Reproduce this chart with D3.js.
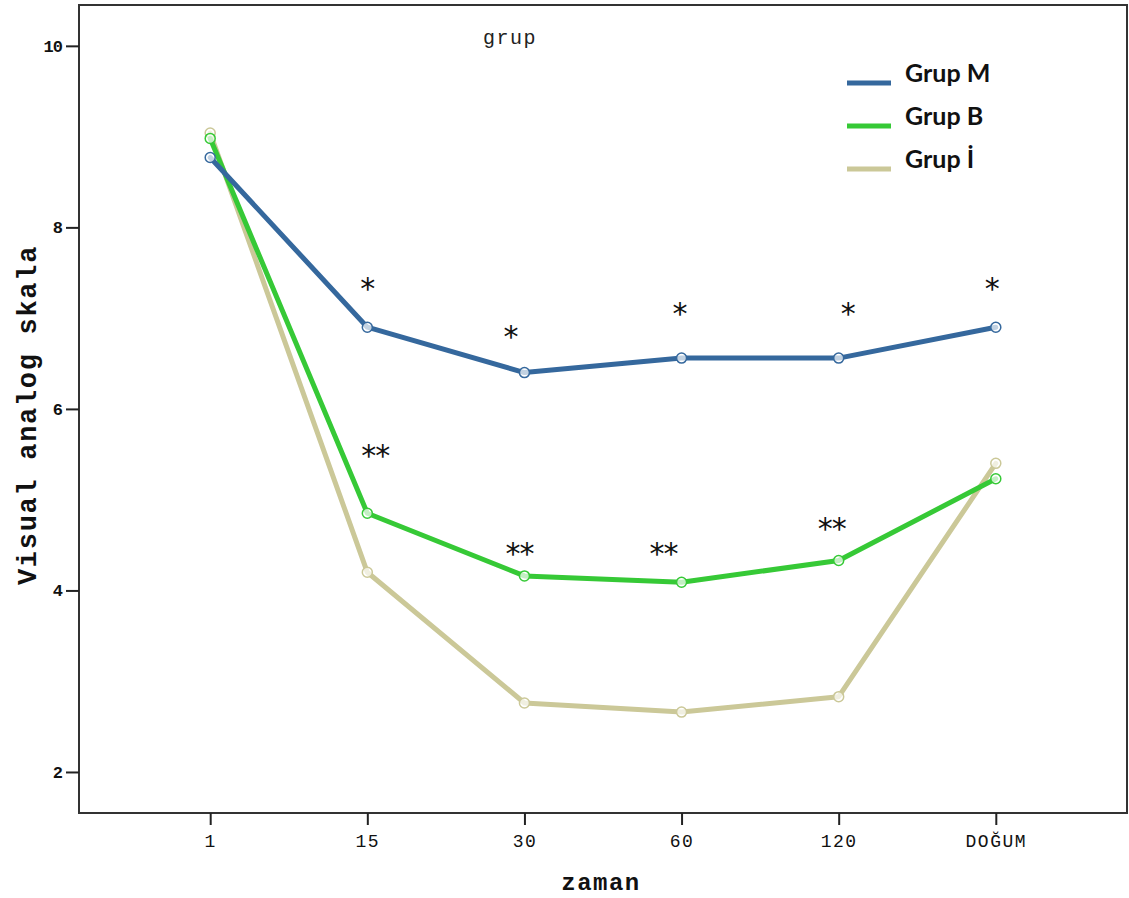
<!DOCTYPE html>
<html>
<head>
<meta charset="utf-8">
<script src="https://cdn.jsdelivr.net/npm/d3@7"></script>
<style>
  html, body { margin: 0; padding: 0; background: #fff; }
  svg { display: block; }
</style>
</head>
<body>
<script>
// ---- data ----
const categories = ["1", "15", "30", "60", "120", "DOĞUM"];
const seriesNames = ["Grup M", "Grup B", "Grup İ"];
const grupM = [8.77, 6.90, 6.40, 6.56, 6.56, 6.90];
const grupB = [8.98, 4.85, 4.16, 4.09, 4.33, 5.23];
const grupI = [9.04, 4.20, 2.76, 2.66, 2.83, 5.40];
const yTicks = [2, 4, 6, 8, 10];
// significance marks: category, value, label, pixel nudge
const markCats = ["15", "30", "60", "120", "DOĞUM", "15", "30", "60", "120"];
const markVals = [7.37, 6.84, 7.09, 7.09, 7.37, 5.53, 4.45, 4.45, 4.72];
const markText = ["*", "*", "*", "*", "*", "**", "**", "**", "**"];
const markDx   = [0, -14, -2, 9, -4, 8, -5, -18, -7];

const colors = ["#35689d", "#36c936", "#cbc898"];

const W = 1129, H = 898;
const svg = d3.select("body").append("svg").attr("width", W).attr("height", H);

const pLeft = 79, pRight = 1127, pTop = 5, pBottom = 813;

const x = d3.scalePoint().domain(categories).range([pLeft, pRight]).padding(0.835);
const y = d3.scaleLinear().domain([1.548, 10.45]).range([pBottom, pTop]);

// frame
svg.append("rect").attr("x", pLeft).attr("y", pTop)
  .attr("width", pRight - pLeft).attr("height", pBottom - pTop)
  .attr("fill", "none").attr("stroke", "#333").attr("stroke-width", 2);

// y axis
const yAxis = svg.append("g").attr("transform", `translate(${pLeft},0)`)
  .call(d3.axisLeft(y).tickValues(yTicks).tickSize(13).tickPadding(4).tickFormat(d3.format("d")));
yAxis.select(".domain").remove();
yAxis.selectAll(".tick line").attr("stroke", "#222").attr("stroke-width", 2);
yAxis.selectAll(".tick text").attr("font-family", "Liberation Mono, monospace")
  .attr("font-weight", "bold").attr("font-size", 17).attr("fill", "#111")
  .attr("letter-spacing", "-1px");

// x axis
const xAxis = svg.append("g").attr("transform", `translate(0,${pBottom})`)
  .call(d3.axisBottom(x).tickSize(12).tickPadding(9));
xAxis.select(".domain").remove();
xAxis.selectAll(".tick line").attr("stroke", "#222").attr("stroke-width", 2);
xAxis.selectAll(".tick text").attr("font-family", "Liberation Mono, monospace")
  .attr("font-size", 18).attr("letter-spacing", "1.5px").attr("fill", "#111");

// axis titles
svg.append("text").attr("transform", `translate(36,415) rotate(-90)`)
  .attr("text-anchor", "middle").attr("font-family", "Liberation Mono, monospace")
  .attr("font-weight", "bold").attr("font-size", 27).attr("letter-spacing", "1.7px")
  .attr("fill", "#111").text("Visual analog skala");

svg.append("text").attr("x", 601).attr("y", 890)
  .attr("text-anchor", "middle").attr("font-family", "Liberation Mono, monospace")
  .attr("font-weight", "bold").attr("font-size", 24).attr("letter-spacing", "1.5px")
  .attr("fill", "#111").text("zaman");

svg.append("text").attr("x", 510).attr("y", 44)
  .attr("text-anchor", "middle").attr("font-family", "Liberation Mono, monospace")
  .attr("font-size", 20).attr("letter-spacing", "1.5px")
  .attr("fill", "#222").text("grup");

// lines
const allSeries = [grupM, grupB, grupI];
const line = d3.line().x((d, i) => x(categories[i])).y(d => y(d));
const order = [2, 1, 0];
order.forEach(k => {
  const g = svg.append("g");
  g.append("path").datum(allSeries[k]).attr("d", line)
    .attr("fill", "none").attr("stroke", colors[k]).attr("stroke-width", 5)
    .attr("stroke-linejoin", "round").attr("stroke-linecap", "round");
  g.selectAll("circle").data(allSeries[k]).join("circle")
    .attr("cx", (d, i) => x(categories[i])).attr("cy", d => y(d)).attr("r", 5)
    .attr("fill", "#fff").attr("fill-opacity", 0.7)
    .attr("stroke", colors[k]).attr("stroke-width", 1.5);
});

// significance marks
svg.selectAll("text.mark").data(markText).join("text").attr("class", "mark")
  .attr("x", (d, i) => x(markCats[i]) + markDx[i])
  .attr("y", (d, i) => y(markVals[i]) + 14)
  .attr("text-anchor", "middle").attr("font-family", "DejaVu Sans, sans-serif")
  .attr("font-size", 30).attr("letter-spacing", "-1px").attr("fill", "#111").text(d => d);

// legend
const legY = [83, 126, 169];
seriesNames.forEach((name, k) => {
  svg.append("line").attr("x1", 847).attr("x2", 891).attr("y1", legY[k]).attr("y2", legY[k])
    .attr("stroke", colors[k]).attr("stroke-width", 5);
  svg.append("text").attr("x", 905).attr("y", legY[k] - 1)
    .attr("font-family", "Lato, sans-serif").attr("font-weight", "bold")
    .attr("font-size", 25).attr("fill", "#111").text(name);
});
</script>
</body>
</html>
